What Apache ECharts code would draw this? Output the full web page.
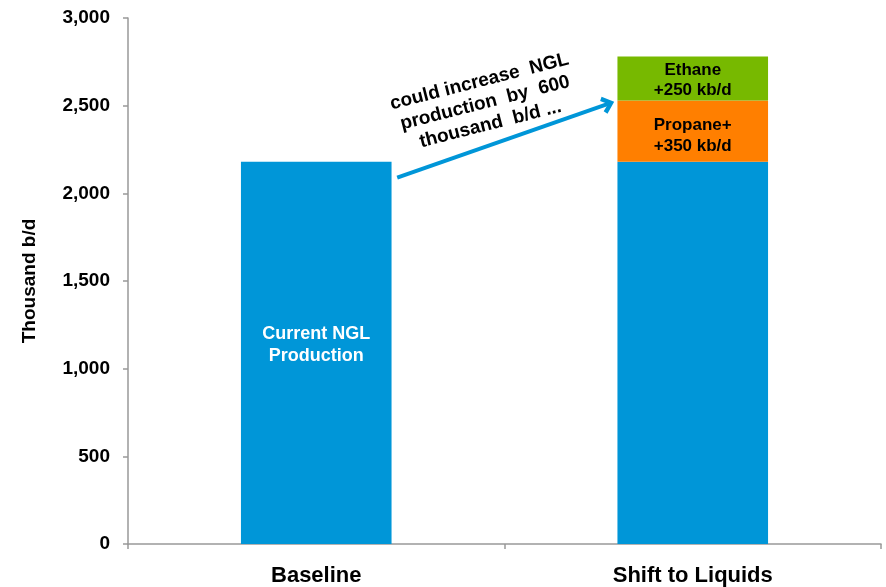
<!DOCTYPE html>
<html>
<head>
<meta charset="utf-8">
<script src="https://cdn.jsdelivr.net/npm/echarts@6/dist/echarts.min.js"></script>
<style>
  html, body { margin: 0; padding: 0; background: #fff; }
  #chart { width: 886px; height: 587px; }
</style>
</head>
<body>
<div id="chart"></div>
<script>
const categories = ['Baseline', 'Shift to Liquids'];
const current = [2180, 2180];
const propane = [null, 350];
const ethane = [null, 250];
const yTicks = [0, 500, 1000, 1500, 2000, 2500, 3000];
// arrow from just right of the baseline bar to the top of the stack
const arrowFrom = [0.215, 2090];
const arrowTo = [0.775, 2510];

const font = '"Liberation Sans", Arial, sans-serif';
const blue = '#0096D8';

const chart = echarts.init(document.getElementById('chart'));
chart.setOption({
  animation: false,
  textStyle: { fontFamily: font },
  grid: { left: 128, top: 18, right: 5, bottom: 42 },
  xAxis: [
    {
      type: 'category',
      data: categories,
      axisLine: { lineStyle: { color: '#999', width: 1.5 } },
      axisTick: { show: true, length: 5, lineStyle: { color: '#999', width: 1.5 } },
      axisLabel: { color: '#000', fontWeight: 'bold', fontSize: 22, margin: 21, fontFamily: font }
    },
    { type: 'value', min: -0.5, max: 1.5, show: false }
  ],
  yAxis: {
    type: 'value',
    min: yTicks[0],
    max: yTicks[yTicks.length - 1],
    interval: 500,
    name: 'Thousand b/d',
    nameLocation: 'middle',
    nameGap: 89,
    nameTextStyle: { color: '#000', fontWeight: 'bold', fontSize: 19, fontFamily: font },
    axisLine: { show: true, onZero: false, lineStyle: { color: '#999', width: 1.5 } },
    axisTick: { show: true, length: 5, lineStyle: { color: '#999', width: 1.5 } },
    splitLine: { show: false },
    axisLabel: {
      color: '#000', fontWeight: 'bold', fontSize: 19, margin: 18, fontFamily: font,
      formatter: v => v.toLocaleString('en-US')
    }
  },
  series: [
    {
      name: 'Current NGL Production',
      type: 'bar',
      stack: 'ngl',
      barWidth: '40%',
      itemStyle: { color: blue },
      data: current.map((v, i) => ({
        value: v,
        label: {
          show: i === 0,
          offset: [0, -8],
          formatter: 'Current NGL\nProduction',
          color: '#fff', fontWeight: 'bold', fontSize: 18, lineHeight: 22, fontFamily: font
        }
      }))
    },
    {
      name: 'Propane+',
      type: 'bar',
      stack: 'ngl',
      itemStyle: { color: '#FF7F00' },
      label: {
        show: true, formatter: 'Propane+\n+350 kb/d', offset: [0, 5],
        color: '#000', fontWeight: 'bold', fontSize: 17, lineHeight: 21, fontFamily: font
      },
      data: propane
    },
    {
      name: 'Ethane',
      type: 'bar',
      stack: 'ngl',
      itemStyle: { color: '#77B900' },
      label: {
        show: true, formatter: 'Ethane\n+250 kb/d', offset: [0, 2],
        color: '#000', fontWeight: 'bold', fontSize: 17, lineHeight: 20, fontFamily: font
      },
      data: ethane
    },
    {
      type: 'line',
      xAxisIndex: 1,
      data: [],
      markLine: {
        silent: true,
        symbol: ['none', 'path://M0,11 L10,0 L20,11 L16,14 L10,7 L4,14 Z'],
        symbolSize: [18, 13],
        lineStyle: { color: blue, width: 4, type: 'solid' },
        label: { show: false },
        data: [[{ coord: arrowFrom }, { coord: arrowTo }]]
      }
    }
  ],
  graphic: [
    {
      type: 'text',
      x: 485,
      y: 103,
      rotation: 0.25,
      style: {
        text: 'could increase  NGL\nproduction  by  600\nthousand  b/d ...',
        font: 'bold 19px ' + font,
        fill: '#000',
        align: 'center',
        verticalAlign: 'middle',
        lineHeight: 22
      }
    }
  ]
});
</script>
</body>
</html>
